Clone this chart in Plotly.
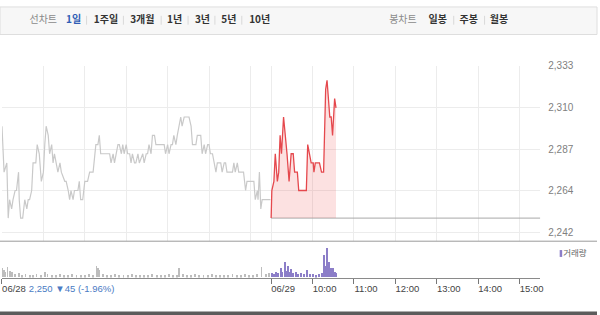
import plotly.graph_objects as go

# ---------------- data ----------------
prev_close = 2250
session_hours = 6.5  # 09:00 - 15:30

# 06/28 intraday (minutes since 09:00, price)
d1_minutes = [0, 3, 7, 9, 11, 14, 16, 19, 21, 24, 25, 27, 30, 33, 36, 38, 40, 43, 45, 49,
              51, 54, 57, 60, 62, 64, 67, 69, 72, 74, 76, 79, 81, 84, 86, 91, 93, 96, 98, 100,
              103, 105, 110, 112, 114, 117, 120, 124, 127, 132, 134, 136, 139, 141, 143, 156, 158, 161, 163, 165,
              168, 170, 173, 175, 177, 180, 182, 185, 187, 189, 192, 194, 197, 199, 204, 206, 209, 211, 213, 216,
              218, 221, 223, 235, 237, 240, 242, 245, 247, 249, 252, 254, 257, 259, 261, 264, 271, 274, 276, 281,
              283, 288, 290, 293, 295, 298, 300, 302, 305, 307, 310, 312, 317, 319, 322, 324, 326, 334, 336, 338,
              341, 343, 350, 353, 355, 365, 367, 370, 371, 373, 375, 377, 387, 389]
d1_price = [2300, 2275, 2280, 2250, 2260, 2255, 2260, 2265, 2265, 2275, 2260, 2250, 2250, 2260, 2255, 2260, 2260, 2265, 2280, 2280,
            2290, 2285, 2270, 2275, 2290, 2300, 2295, 2285, 2290, 2280, 2285, 2280, 2275, 2280, 2275, 2270, 2270, 2265, 2260, 2265,
            2260, 2265, 2265, 2270, 2260, 2260, 2270, 2270, 2275, 2275, 2285, 2290, 2290, 2295, 2285, 2285, 2280, 2285, 2280, 2285,
            2290, 2290, 2285, 2290, 2285, 2290, 2285, 2285, 2280, 2285, 2280, 2280, 2285, 2280, 2285, 2280, 2285, 2285, 2290, 2285,
            2295, 2295, 2290, 2290, 2285, 2290, 2285, 2290, 2290, 2295, 2290, 2295, 2300, 2305, 2300, 2305, 2305, 2300, 2290, 2290,
            2295, 2295, 2285, 2290, 2285, 2290, 2290, 2285, 2285, 2280, 2275, 2280, 2280, 2275, 2280, 2280, 2275, 2275, 2280, 2275,
            2280, 2275, 2275, 2265, 2270, 2270, 2260, 2265, 2260, 2275, 2255, 2260, 2260, 2260]

# 06/29 intraday
d2_minutes = [0, 1, 4, 6, 9, 11, 13, 15, 18, 21, 23, 26, 29, 32, 34, 38, 40, 51, 53, 58,
              61, 62, 64, 70, 73, 76, 79, 81, 85, 87, 89, 92, 94]
d2_price = [2250, 2265, 2270, 2285, 2270, 2275, 2295, 2285, 2305, 2295, 2285, 2270, 2285, 2285, 2275, 2275, 2265, 2265, 2290, 2280,
            2280, 2275, 2280, 2280, 2275, 2275, 2320, 2325, 2305, 2305, 2295, 2315, 2310]

# volumes (relative units)
d1_vol_minutes = [0, 3, 5, 8, 11, 14, 19, 24, 29, 34, 40, 45, 50, 56, 62, 66, 72, 78, 84, 90,
                  96, 102, 108, 114, 120, 126, 132, 137, 139, 141, 146, 152, 158, 164, 170, 176, 182, 188, 194, 200,
                  206, 212, 218, 224, 230, 236, 242, 248, 254, 257, 262, 268, 274, 280, 286, 292, 298, 304, 310, 316,
                  322, 328, 334, 340, 346, 352, 358, 364, 370, 376, 382, 387]
d1_volume = [10, 8, 6, 11, 7, 5, 3, 4, 2, 3, 2, 2, 3, 2, 5, 3, 2, 2, 3, 2,
             2, 3, 2, 2, 2, 3, 2, 12, 10, 8, 3, 2, 2, 3, 2, 2, 2, 3, 2, 2,
             2, 2, 3, 2, 2, 2, 3, 2, 2, 10, 3, 2, 2, 3, 2, 2, 2, 3, 2, 2,
             2, 2, 3, 2, 2, 3, 2, 2, 3, 11, 3, 4]
d2_vol_minutes = [1, 4, 7, 10, 14, 16, 20, 22, 25, 27, 29, 32, 36, 39, 43, 48, 52, 56, 61, 65,
                  69, 74, 77, 79, 81, 84, 87, 89, 92, 94]
d2_volume = [4, 3, 5, 4, 10, 6, 16, 7, 12, 6, 9, 4, 5, 3, 4, 3, 8, 3, 3, 2,
             3, 4, 23, 12, 30, 16, 10, 10, 6, 4]

y_ticks = [2242, 2264.75, 2287.5, 2310.25, 2333]
y_labels = ["2,242", "2,264", "2,287", "2,310", "2,333"]

axis_labels = ["06/28", "06/29", "10:00", "11:00", "12:00", "13:00", "14:00", "15:00"]
axis_label_hours = [0, 6.5, 7.5, 8.5, 9.5, 10.5, 11.5, 12.5]
grid_hours = [0, 1, 2, 3, 4, 5, 6, 6.5, 7.5, 8.5, 9.5, 10.5, 11.5, 12.5]

change_text = "2,250 ▼45 (-1.96%)"
header_left = ["1일", "1주일", "3개월", "1년", "3년", "5년", "10년"]
header_right = ["일봉", "주봉", "월봉"]

# ---------------- layout helpers (pixel positions of UI chrome) ----------------
W, H = 600, 315
def py(px):
    return (H - px) / H
def pxx(px):
    return px / W

header_left_x = [74, 106.5, 143, 175.5, 203.5, 230, 261]
header_right_x = [440, 471, 501.5]
header_y = 15.5
kfont = "Noto Sans CJK KR"

x1 = [m / 60 for m in d1_minutes]
x2 = [session_hours + m / 60 for m in d2_minutes]
vx1 = [m / 60 for m in d1_vol_minutes]
vx2 = [session_hours + m / 60 for m in d2_vol_minutes]

fig = go.Figure()
fig.add_trace(go.Scatter(x=x1, y=d1_price, mode="lines",
                         line=dict(color="#c9c9c9", width=1.2), hoverinfo="skip", showlegend=False))
fig.add_trace(go.Scatter(x=[session_hours, 2 * session_hours], y=[prev_close, prev_close], mode="lines",
                         line=dict(color="#a8a8a8", width=1), hoverinfo="skip", showlegend=False))
fig.add_trace(go.Scatter(x=[x2[0], x2[-1]], y=[prev_close, prev_close], mode="lines",
                         line=dict(color="rgba(0,0,0,0)", width=0), hoverinfo="skip", showlegend=False))
fig.add_trace(go.Scatter(x=x2, y=d2_price, mode="lines", fill="tonexty",
                         fillcolor="rgba(240,90,90,0.18)",
                         line=dict(color="#e5484d", width=1.3), hoverinfo="skip", showlegend=False))
fig.add_trace(go.Bar(x=vx1, y=d1_volume, width=0.022, marker=dict(color="#bdbdbd", line=dict(width=0)),
                     xaxis="x2", yaxis="y2", showlegend=False, hoverinfo="skip"))
fig.add_trace(go.Bar(x=vx2, y=d2_volume, width=0.022, marker=dict(color="#8c7ec8", line=dict(width=0)),
                     xaxis="x2", yaxis="y2", showlegend=False, hoverinfo="skip"))

# ---- text chrome on a full-page pixel overlay axis ----
def text_trace(texts, xs, ys, size, colors, family, pos="middle center"):
    return go.Scatter(x=xs, y=ys, text=texts, mode="text", textposition=pos,
                      textfont=dict(family=family, size=size, color=colors),
                      xaxis="x3", yaxis="y3", cliponaxis=False, hoverinfo="skip", showlegend=False)

fig.add_trace(text_trace(["선차트", "봉차트"], [43.5, 405], [header_y] * 2, 10, "#8a8a8a", kfont))
fig.add_trace(text_trace(["<b>%s</b>" % t for t in header_left], header_left_x, [header_y] * len(header_left),
                         10, ["#2f5db5"] + ["#333333"] * (len(header_left) - 1), kfont))
fig.add_trace(text_trace(["<b>%s</b>" % t for t in header_right], header_right_x, [header_y] * len(header_right),
                         10, "#333333", kfont))
fig.add_trace(text_trace([change_text], [29], [289], 9.5, "#4a7bc4", "Liberation Sans, Arial, sans-serif",
                         pos="middle right"))
fig.add_trace(text_trace(["거래량"], [566], [252.5], 8.5, "#666666", kfont, pos="middle right"))

dom_x = [pxx(2), pxx(543)]
fig.update_layout(
    width=W, height=H, margin=dict(l=0, r=0, t=0, b=0),
    paper_bgcolor="white", plot_bgcolor="rgba(0,0,0,0)",
    font=dict(family="Liberation Sans, Arial, sans-serif"),
    bargap=0,
    xaxis=dict(domain=dom_x, range=[0, 2 * session_hours], anchor="y",
               tickvals=grid_hours, showticklabels=False, ticks="",
               showgrid=True, gridcolor="#ececec", gridwidth=1, zeroline=False, showline=False),
    yaxis=dict(domain=[py(240), py(61.5)], range=[2237.44, 2333], anchor="x", side="right",
               tickvals=y_ticks, ticktext=y_labels, ticks="", ticklabelstandoff=7,
               tickfont=dict(size=10, color="#808080"),
               showgrid=True, gridcolor="#ececec", gridwidth=1, zeroline=False, showline=False),
    xaxis2=dict(domain=dom_x, range=[0, 2 * session_hours], anchor="y2",
                tickvals=axis_label_hours, ticktext=axis_labels, ticks="outside", ticklen=5,
                tickcolor="#777777", tickwidth=1, ticklabelshift=12, ticklabelstandoff=-3,
                tickfont=dict(size=9.5, color="#444444"),
                showgrid=False, zeroline=False, showline=True, linecolor="#8a8a8a", linewidth=1),
    yaxis2=dict(domain=[py(277), py(240)], range=[0, 37], anchor="x2", visible=False),
    xaxis3=dict(domain=[0, 1], range=[0, W], anchor="y3", visible=False, fixedrange=True),
    yaxis3=dict(domain=[0, 1], range=[H, 0], anchor="x3", visible=False, fixedrange=True),
)

shapes = []
shapes.append(dict(type="rect", xref="paper", yref="paper", x0=0, x1=1, y0=py(30), y1=py(2),
                   fillcolor="#f7f7f7", line=dict(color="#dedede", width=1), layer="below"))
shapes.append(dict(type="line", xref="paper", yref="paper", x0=0, x1=1, y0=py(240), y1=py(240),
                   line=dict(color="#9a9a9a", width=1)))
shapes.append(dict(type="rect", xref="paper", yref="paper", x0=0, x1=1, y0=0, y1=py(311.5),
                   fillcolor="#5c5c5c", line=dict(width=0)))
shapes.append(dict(type="rect", xref="paper", yref="paper", x0=pxx(562.5), x1=pxx(565), y0=py(256), y1=py(249),
                   fillcolor="#8c7ec8", line=dict(width=0)))
for sx in [87, 124, 162, 189, 216, 243, 456, 487]:
    shapes.append(dict(type="line", xref="paper", yref="paper", x0=pxx(sx), x1=pxx(sx), y0=py(20), y1=py(11),
                       line=dict(color="#d9d9d9", width=1)))
fig.update_layout(shapes=shapes)

fig.write_html("out.html")
